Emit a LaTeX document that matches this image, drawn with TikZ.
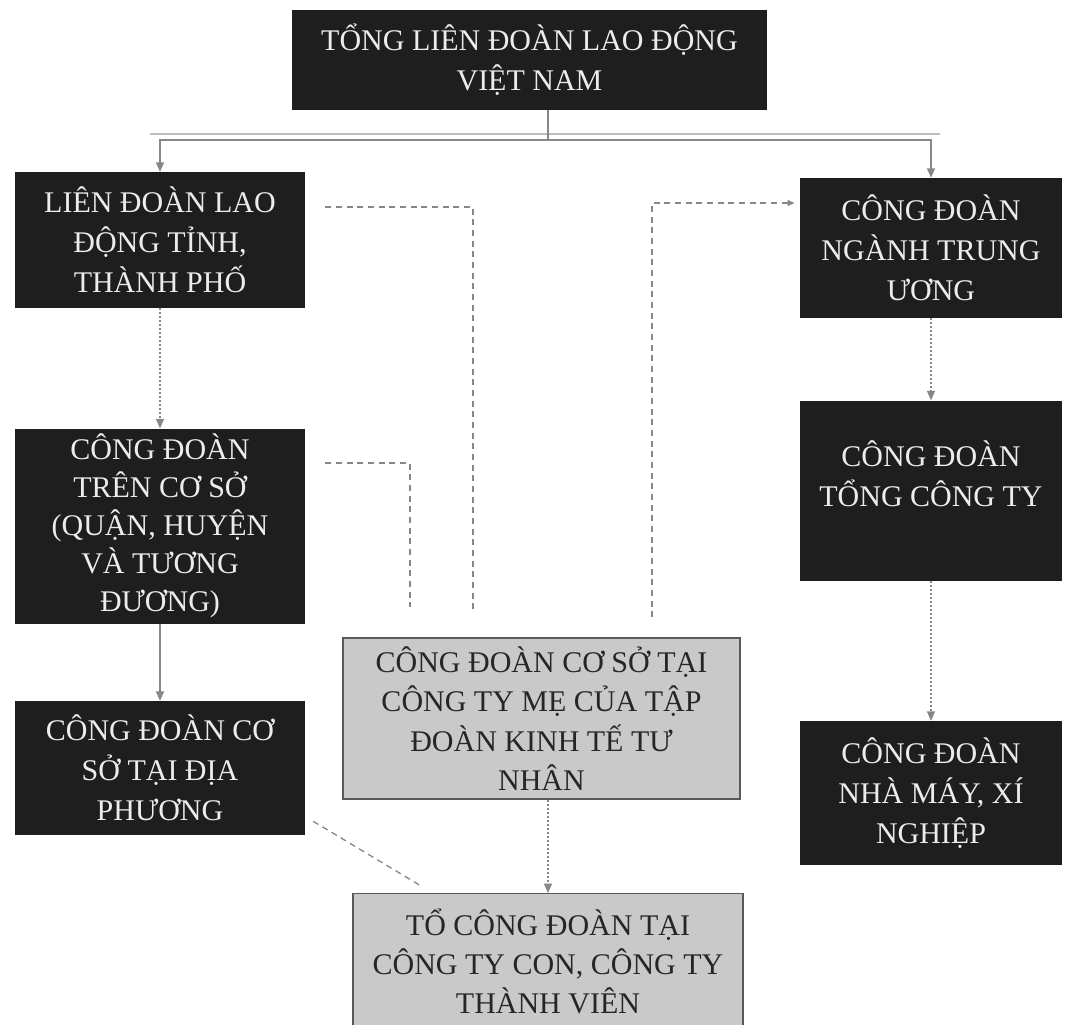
\documentclass[tikz,border=0pt]{standalone}
\usepackage{fontspec}
\setmainfont{Liberation Serif}
\usetikzlibrary{positioning,arrows.meta,calc}
\definecolor{boxdark}{RGB}{30,30,30}
\definecolor{boxgray}{RGB}{201,201,201}
\definecolor{linegray}{RGB}{135,135,135}
\definecolor{textlight}{RGB}{236,236,236}
\tikzset{
  blk/.style={align=center,inner sep=1pt,font=\fontsize{22.5}{30}\selectfont},
  unit/.style={blk,fill=boxdark,text=textlight,minimum width=217.5pt},
  runit/.style={unit,minimum width=196.5pt},
  grp/.style={blk,fill=boxgray,draw=black!65,line width=0.8pt,text=black!85,font=\fontsize{22.5}{29.5}\selectfont},
  ln/.style={linegray,line width=0.9pt},
  ar/.style={ln,-{Triangle[length=7pt,width=6pt]}},
  dar/.style={ar,dash pattern=on 1.6pt off 1.4pt},
  dl/.style={linegray,line width=1pt,dash pattern=on 4.5pt off 3.5pt},
}
\begin{document}
\begin{tikzpicture}[x=0.75pt,y=-0.75pt]
  \useasboundingbox (0,0) rectangle (1068,1025);
  % top level
  \node[unit,minimum width=356.25pt,minimum height=75pt] (T) at (529.5,60)
     {TỔNG LIÊN ĐOÀN LAO ĐỘNG\\VIỆT NAM};
  % left column
  \node[unit,minimum height=102pt] (L1) at (160,240) {LIÊN ĐOÀN LAO\\ĐỘNG TỈNH,\\THÀNH PHỐ};
  \node[unit,minimum height=146.25pt,font=\fontsize{22.5}{28.5}\selectfont,below=90pt of L1] (L2)
     {CÔNG ĐOÀN\\TRÊN CƠ SỞ\\(QUẬN, HUYỆN\\VÀ TƯƠNG\\ĐƯƠNG)};
  \node[unit,minimum height=100.5pt,below=57.75pt of L2] (L3) {CÔNG ĐOÀN CƠ\\SỞ TẠI ĐỊA\\PHƯƠNG};
  % right column
  \node[runit,minimum height=105pt] (R1) at (931,248) {CÔNG ĐOÀN\\NGÀNH TRUNG\\ƯƠNG};
  \node[runit,minimum height=135pt,text depth=25pt,below=61.5pt of R1] (R2) {CÔNG ĐOÀN\\TỔNG CÔNG TY};
  \node[runit,minimum height=108pt,below=105pt of R2] (R3) {CÔNG ĐOÀN\\NHÀ MÁY, XÍ\\NGHIỆP};
  % private groups
  \node[grp,minimum width=297.75pt,minimum height=120.75pt] (M) at (541.5,718.5)
     {CÔNG ĐOÀN CƠ SỞ TẠI\\CÔNG TY MẸ CỦA TẬP\\ĐOÀN KINH TẾ TƯ\\NHÂN};
  \node[grp,minimum width=292.5pt,minimum height=102pt,anchor=north] (B) at (548,893)
     {TỔ CÔNG ĐOÀN TẠI\\CÔNG TY CON, CÔNG TY\\THÀNH VIÊN};
  % branching from the top
  \coordinate (hub) at (548,140);
  \coordinate (barW) at (150,134);
  \coordinate (barE) at (940,134);
  \draw[linegray!55,line width=0.8pt] (barW) -- (barE);
  \draw[ln] (T.south -| hub) -- (hub);
  \draw[ar] (hub) -| (L1.north);
  \draw[ar] (hub) -| (R1.north);
  % columns
  \draw[dar] (L1.south) -- (L2.north);
  \draw[ar] (L2.south) -- (L3.north);
  \draw[dar] (R1.south) -- (R2.north);
  \draw[dar] (R2.south) -- (R3.north);
  \draw[dar] (B.north |- M.south) -- (B.north);
  % dashed links to the group
  \coordinate (c1) at (473,207);
  \coordinate (c2) at (410,463);
  \coordinate (c3) at (652,203);
  \draw[dl] ([xshift=15pt]L1.east |- c1) -- (c1) -- ([yshift=18pt]c1 |- M.north);
  \draw[dl] ([xshift=15pt]L2.east |- c2) -- (c2) -- ([yshift=23pt]c2 |- M.north);
  \draw[dl,-{Triangle[length=5pt,width=4.5pt]}] ([yshift=15pt]c3 |- M.north) -- (c3) -- ([xshift=-4pt]R1.west |- c3);
  \draw[dl] ($(L3.south east)+(8,-14)$) -- ($(B.north west)+(67,-8)$);
\end{tikzpicture}
\end{document}
